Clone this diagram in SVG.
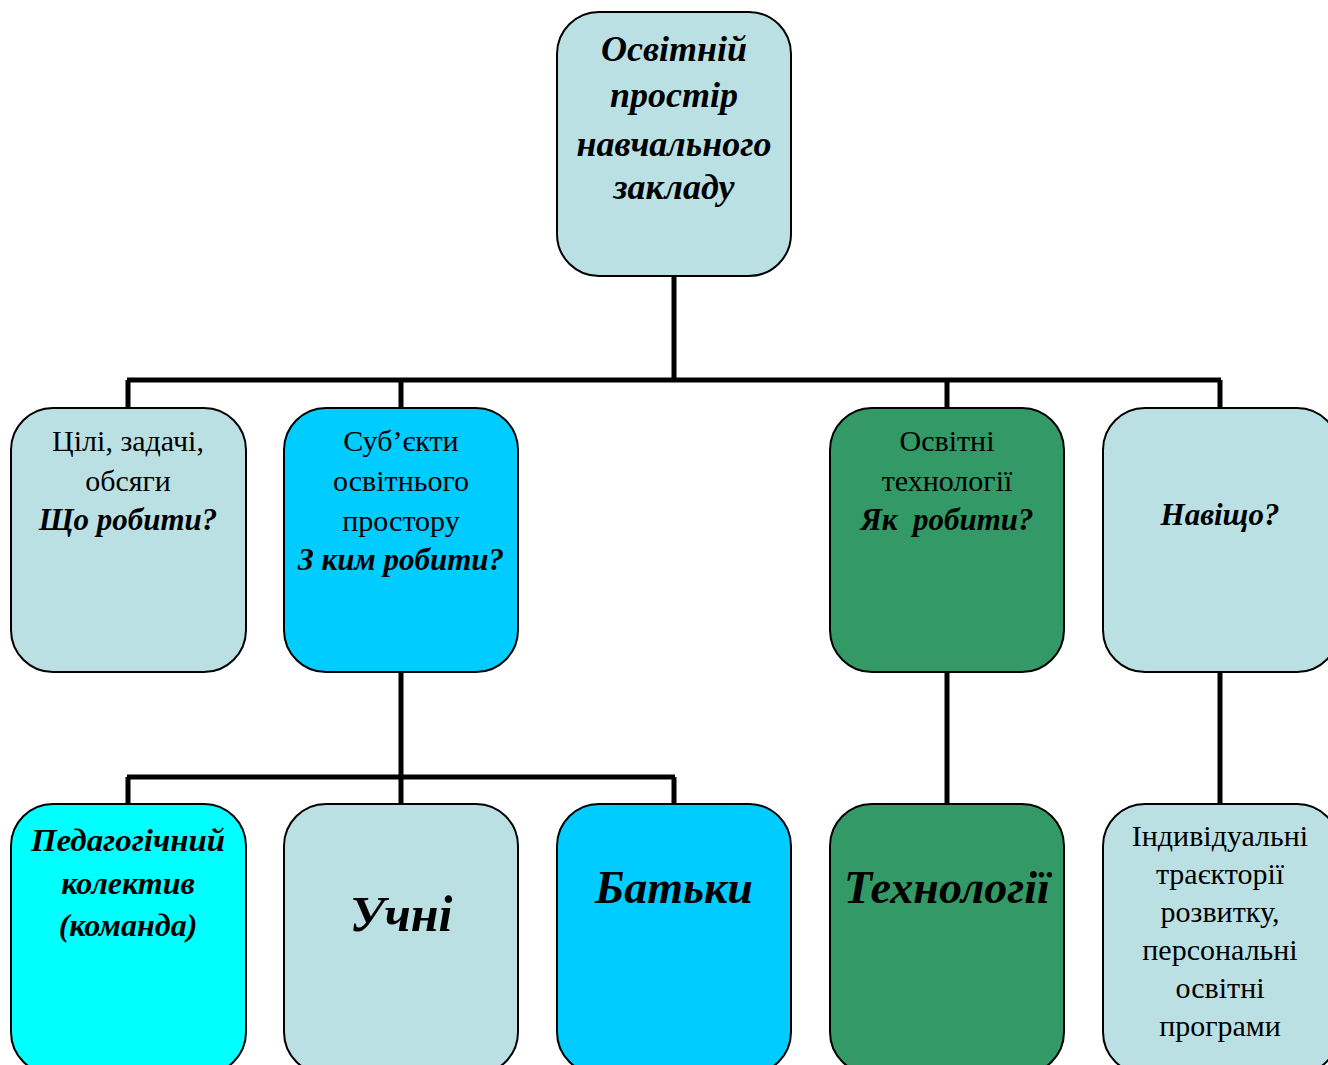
<svg xmlns="http://www.w3.org/2000/svg" width="1328" height="1065" viewBox="0 0 1328 1065">
<style>
.box{stroke:#000;stroke-width:2}
.lb{fill:#BAE0E3}.cb{fill:#00CCFF}.gr{fill:#339966}.cy{fill:#00FFFF}
text{font-family:"Liberation Serif","DejaVu Serif",serif;fill:#000;text-anchor:middle}
.n{font-size:30px}
.q{font-size:31px}
.bi{font-weight:bold;font-style:italic}
.conn{stroke:#000;stroke-width:5;fill:none}
</style>
<rect width="1328" height="1065" fill="#fff"/>
<g id="connectors">
<path class="conn" d="M674 276V380M127 380H1221M128 380V408M401 380V408M947 380V408M1220 380V408"/>
<path class="conn" d="M401 672V777M127 777H675M128 777V804M401 777V804M674 777V804"/>
<path class="conn" d="M947 672V804M1220 672V804"/>
</g>
<g id="root">
<rect class="box lb" x="557" y="12" width="234" height="264" rx="42"/>
<text class="bi" font-size="36" x="674" y="61">Освітній</text>
<text class="bi" font-size="36" x="674" y="107">простір</text>
<text class="bi" font-size="36" x="674" y="156">навчального</text>
<text class="bi" font-size="36" x="674" y="199">закладу</text>
</g>
<g id="goals">
<rect class="box lb" x="11" y="408" width="235" height="264" rx="42"/>
<text class="n" x="128" y="451">Цілі, задачі,</text>
<text class="n" x="128" y="491">обсяги</text>
<text class="q bi" x="128" y="530">Що робити?</text>
</g>
<g id="subjects">
<rect class="box cb" x="284" y="408" width="234" height="264" rx="42"/>
<text class="n" x="401" y="451">Суб’єкти</text>
<text class="n" x="401" y="491">освітнього</text>
<text class="n" x="401" y="531">простору</text>
<text class="q bi" x="401" y="570">З ким робити?</text>
</g>
<g id="techs">
<rect class="box gr" x="830" y="408" width="234" height="264" rx="42"/>
<text class="n" x="947" y="451">Освітні</text>
<text class="n" x="947" y="491">технології</text>
<text class="q bi" x="947" y="530" xml:space="preserve">Як  робити?</text>
</g>
<g id="why">
<rect class="box lb" x="1103" y="408" width="236" height="264" rx="42"/>
<text class="q bi" x="1220" y="525">Навіщо?</text>
</g>
<g id="teachers">
<rect class="box cy" x="11" y="804" width="235" height="270" rx="42"/>
<text class="bi" font-size="32" x="128" y="851" textLength="194" lengthAdjust="spacingAndGlyphs">Педагогічний</text>
<text class="bi" font-size="32" x="128" y="894">колектив</text>
<text class="bi" font-size="32" x="128" y="936">(команда)</text>
</g>
<g id="pupils">
<rect class="box lb" x="284" y="804" width="234" height="270" rx="42"/>
<text class="bi" font-size="50" x="401" y="931">Учні</text>
</g>
<g id="parents">
<rect class="box cb" x="557" y="804" width="234" height="270" rx="42"/>
<text class="bi" font-size="46" x="674" y="903">Батьки</text>
</g>
<g id="technologies">
<rect class="box gr" x="830" y="804" width="234" height="270" rx="42"/>
<text class="bi" font-size="46" x="947" y="903">Технології</text>
</g>
<g id="trajectories">
<rect class="box lb" x="1103" y="804" width="236" height="270" rx="42"/>
<text class="n" x="1220" y="846">Індивідуальні</text>
<text class="n" x="1220" y="884">траєкторії</text>
<text class="n" x="1220" y="922">розвитку,</text>
<text class="n" x="1220" y="960">персональні</text>
<text class="n" x="1220" y="998">освітні</text>
<text class="n" x="1220" y="1036">програми</text>
</g>
</svg>
